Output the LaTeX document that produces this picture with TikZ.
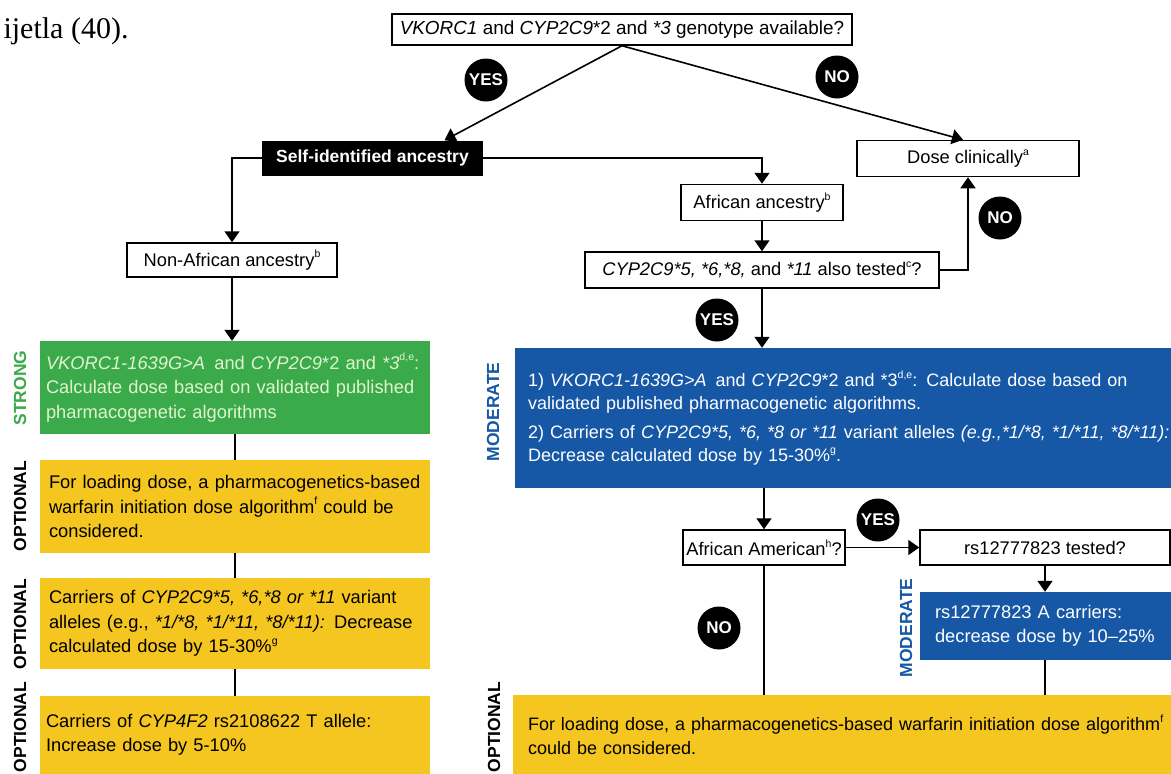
\documentclass[tikz,border=0pt]{standalone}
\usepackage{fontspec}
\setmainfont{Liberation Sans}
\newfontfamily\leadserif{Liberation Serif}
\usetikzlibrary{arrows.meta}
\definecolor{strongGreen}{RGB}{58,170,74}
\definecolor{optYellow}{RGB}{246,198,32}
\definecolor{modBlue}{RGB}{22,88,166}
\definecolor{mintText}{RGB}{224,244,208}
\newcommand{\fnote}[1]{\raisebox{0.45em}{\fontsize{10.5}{10.5}\selectfont #1}}
\begin{document}
\begin{tikzpicture}[x=1pt,y=-1pt,
        txt/.style={font=\fontsize{18.3}{24.5}\selectfont},
        qbox/.style={txt,draw,line width=1.5pt,fill=white,inner sep=0pt},
        headbox/.style={fill=black,text=white,inner sep=0pt,font=\bfseries\fontsize{17.5}{21}\selectfont},
        recbox/.style={txt,inner sep=0pt,align=left},
        badge/.style={circle,fill=black,text=white,inner sep=0pt,minimum size=43pt,font=\bfseries\fontsize{17}{18}\selectfont},
        level/.style={rotate=90,font=\bfseries\fontsize{17.5}{20}\selectfont},
        link/.style={line width=1.6pt},
        arr/.style={link,-{Triangle[width=15pt,length=11pt]}}]
    \useasboundingbox (0,0) rectangle (1171,774);

    \node[anchor=base west,font=\leadserif\fontsize{30}{32}\selectfont] (leadin) at (0,38) {ijetla (40).};

    \node[qbox,font=\fontsize{18.9}{22}\selectfont,minimum width=460,minimum height=31] (geno) at (622,29.5)
        {\textit{VKORC1} and \textit{CYP2C9}*2 and \textit{*3} genotype available?};
    \node[headbox,minimum width=221,minimum height=35] (self) at (372.5,158) {Self-identified ancestry};
    \node[qbox,minimum width=222,minimum height=36] (dose) at (968,158.5) {Dose clinically\fnote{a}};
    \node[qbox,minimum width=162,minimum height=36] (afr) at (762,202.5) {African ancestry\fnote{b}};
    \node[qbox,minimum width=210,minimum height=34] (nonafr) at (232,260) {Non-African ancestry\fnote{b}};
    \node[qbox,minimum width=354,minimum height=36] (tested) at (762,270)
        {\textit{CYP2C9*5, *6,*8,} and \textit{*11} also tested\fnote{c}?};

    \node[recbox,fill=strongGreen,text=mintText,minimum width=390,minimum height=93,text width=378] (strong) at (235,387.5)
        {\textit{VKORC1-1639G>A}\enspace and \textit{CYP2C9}*2 and \textit{*3}\fnote{d,e}:\\
         Calculate dose based on validated published\\
         pharmacogenetic algorithms};
    \node[recbox,fill=optYellow,minimum width=390,minimum height=93,text width=372] (loadL) at (235,506.5)
        {For loading dose, a pharmacogenetics-based\\
         warfarin initiation dose algorithm\fnote{f} could be\\
         considered.};
    \node[recbox,fill=optYellow,minimum width=390,minimum height=91,text width=372] (carrL) at (235,623.5)
        {Carriers of \textit{CYP2C9*5, *6,*8 or *11} variant\\
         alleles (e.g., \textit{*1/*8, *1/*11, *8/*11):} Decrease\\
         calculated dose by 15-30\%\fnote{g}};
    \node[recbox,fill=optYellow,minimum width=390,minimum height=78,text width=378] (cyp4) at (235,735)
        {Carriers of \textit{CYP4F2} rs2108622 T allele:\\
         Increase dose by 5-10\%};

    \node[recbox,fill=modBlue,text=white,font=\fontsize{18}{23}\selectfont,minimum width=670,minimum height=140,text width=644] (moder) at (850,418)
        {1) \textit{VKORC1-1639G>A}\enspace and \textit{CYP2C9}*2 and *3\fnote{d,e}: Calculate dose based on\\
         validated published pharmacogenetic algorithms.\\[6pt]
         2) Carriers of \textit{CYP2C9*5, *6, *8 or *11} variant alleles \textit{(e.g.,*1/*8, *1/*11, *8/*11):}\\
         Decrease calculated dose by 15-30\%\fnote{g}.};
    \node[qbox,minimum width=162,minimum height=35] (afram) at (764,547.5) {African American\fnote{h}?};
    \node[qbox,minimum width=250,minimum height=35] (rstest) at (1045,547.5) {rs12777823 tested?};
    \node[recbox,fill=modBlue,text=white,minimum width=265,minimum height=68,text width=235] (rscarr) at (1052.5,626)
        {rs12777823 A carriers:\\
         decrease dose by 10–25\%};
    \node[recbox,fill=optYellow,font=\fontsize{18}{23.5}\selectfont,minimum width=672,minimum height=79,text width=642] (loadR) at (849,734.5)
        {For loading dose, a pharmacogenetics-based warfarin initiation dose algorithm\fnote{f}\\
         could be considered.};

    \node[level,text=strongGreen] (lvlStrong) at (20,388) {STRONG};
    \node[level] (lvlOptA) at (20,506) {OPTIONAL};
    \node[level] (lvlOptB) at (20,624) {OPTIONAL};
    \node[level] (lvlOptC) at (20,727) {OPTIONAL};
    \node[level,text=modBlue] (lvlModA) at (493,412) {MODERATE};
    \node[level,text=modBlue] (lvlModB) at (906,628) {MODERATE};
    \node[level] (lvlOptD) at (494,727) {OPTIONAL};

    \draw[arr] (geno.south) -- ([xshift=72]self.north);
    \draw[arr] (geno.south) -- ([xshift=-5]dose.north);
    \draw[arr] (self.west) -| (nonafr.north);
    \draw[arr] (self.east) -| (afr.north);
    \draw[arr] (afr.south) -- (tested.north);
    \draw[arr] (tested.east) -| (dose.south);
    \draw[arr] (tested.south) -- (tested.south |- moder.north);
    \draw[arr] (nonafr.south) -- (nonafr.south |- strong.north);
    \draw[link] (strong.south) -- (loadL.north);
    \draw[link] (loadL.south) -- (carrL.north);
    \draw[link] (carrL.south) -- (cyp4.north);
    \draw[arr] (afram.north |- moder.south) -- (afram.north);
    \draw[arr] (afram.east) -- (rstest.west);
    \draw[arr] (rstest.south) -- (rstest.south |- rscarr.north);
    \draw[link] (rstest.south |- rscarr.south) -- (rstest.south |- loadR.north);
    \draw[link] (afram.south) -- (afram.south |- loadR.north);

    \node[badge] (yesA) at (486,80) {YES};
    \node[badge] (noA) at (837,77) {NO};
    \node[badge] (noB) at (1000,218) {NO};
    \node[badge] (yesB) at (717,320) {YES};
    \node[badge] (yesC) at (878,520) {YES};
    \node[badge] (noC) at (719,628) {NO};
\end{tikzpicture}
\end{document}
